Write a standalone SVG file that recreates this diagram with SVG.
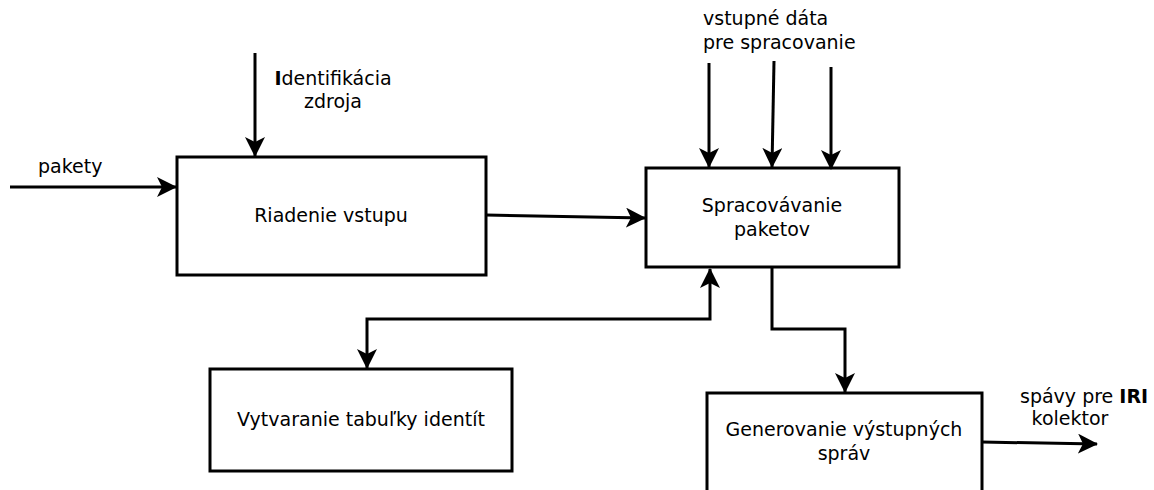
<svg xmlns="http://www.w3.org/2000/svg" width="1154" height="490" viewBox="0 0 1154 490">
<style>
.box{fill:#fff;stroke:#000;stroke-width:3}
.ln{fill:none;stroke:#000;stroke-width:3}
text{font-family:"DejaVu Sans",sans-serif;font-size:19px;fill:#000}
.c{text-anchor:middle}
</style>
<defs>
<marker id="ah" viewBox="0 0 20 20" refX="19" refY="10" markerWidth="20" markerHeight="20" markerUnits="userSpaceOnUse" orient="auto-start-reverse">
<path d="M0,0 L20,10 L0,20 L5,10 z" fill="#000"/>
</marker>
</defs>
<rect width="1154" height="490" fill="#fff"/>
<g id="n1"><rect class="box" x="177" y="157" width="309" height="118"/><text class="c" x="331" y="222">Riadenie vstupu</text></g>
<g id="n2"><rect class="box" x="646" y="168" width="253" height="99"/><text class="c" x="772" y="212">Spracovávanie</text><text class="c" x="772" y="236">paketov</text></g>
<g id="n3"><rect class="box" x="210" y="369" width="302" height="102"/><text class="c" x="361" y="426">Vytvaranie tabuľky identít</text></g>
<g id="n4"><rect class="box" x="707" y="393" width="275" height="110"/><text class="c" x="844" y="436">Generovanie výstupných</text><text class="c" x="844" y="460">správ</text></g>
<g id="labels">
<text x="38" y="173">pakety</text>
<text class="c" x="333" y="85"><tspan font-weight="bold">I</tspan>dentifikácia</text>
<text class="c" x="333" y="108">zdroja</text>
<text x="703" y="25">vstupné dáta</text>
<text x="703" y="49">pre spracovanie</text>
<text x="1020" y="403">spávy pre <tspan font-weight="bold">IRI</tspan></text>
<text class="c" x="1070" y="425">kolektor</text>
</g>
<g id="connectors">
<path class="ln" d="M10,187 L176,187" marker-end="url(#ah)"/>
<path class="ln" d="M255,53 L255,156" marker-end="url(#ah)"/>
<path class="ln" d="M486,215 L645,218" marker-end="url(#ah)"/>
<path class="ln" d="M709,63 L709,167" marker-end="url(#ah)"/>
<path class="ln" d="M774,61 L772,167" marker-end="url(#ah)"/>
<path class="ln" d="M831,67 L831,169" marker-end="url(#ah)"/>
<path class="ln" d="M772,268 L772,329 L845,329 L845,392" marker-end="url(#ah)"/>
<path class="ln" d="M710,269 L710,319 L367,319 L367,368" marker-start="url(#ah)" marker-end="url(#ah)"/>
<path class="ln" d="M982,442 L1097,444" marker-end="url(#ah)"/>
</g>
</svg>
